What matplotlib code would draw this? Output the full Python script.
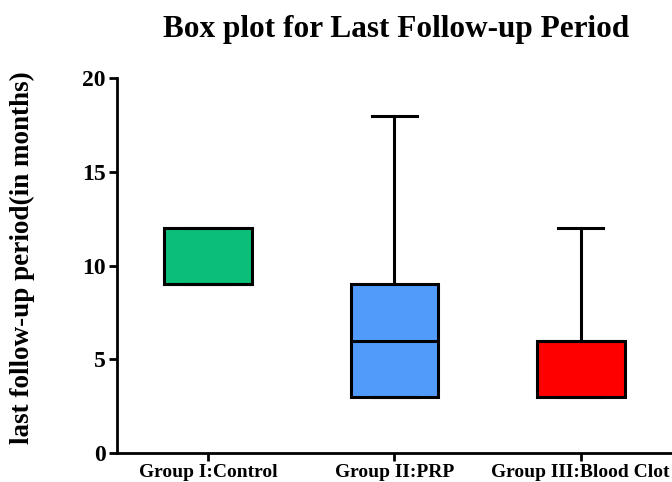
import matplotlib.pyplot as plt

groups = ["Group I:Control", "Group II:PRP", "Group III:Blood Clot"]
whislo = [9, 3, 3]
q1 = [9, 3, 3]
med = [9, 6, 6]
q3 = [12, 9, 6]
whishi = [12, 18, 12]
colors = ["#0BBF78", "#519CFB", "#FF0000"]

plt.rcParams["font.family"] = "Liberation Serif"
plt.rcParams["font.weight"] = "bold"

stats = [
    {"label": g, "whislo": lo, "q1": a, "med": m, "q3": b, "whishi": hi, "fliers": []}
    for g, lo, a, m, b, hi in zip(groups, whislo, q1, med, q3, whishi)
]

fig = plt.figure(figsize=(6.72, 4.82), dpi=100)
ax = fig.add_axes([0.174, 0.06, 0.826, 0.778])

lw = 2.2
bp = ax.bxp(stats, positions=range(3), widths=0.47, patch_artist=True,
            showfliers=False,
            boxprops=dict(linewidth=lw, edgecolor="black"),
            medianprops=dict(linewidth=lw, color="black"),
            whiskerprops=dict(linewidth=lw, color="black"),
            capprops=dict(linewidth=lw, color="black"),
            capwidths=0.24)
for patch, c in zip(bp["boxes"], colors):
    patch.set_facecolor(c)

ax.set_xlim(-0.49, 2.49)
ax.set_ylim(0, 20)
ax.set_yticks([0, 5, 10, 15, 20])
ax.set_xticks(range(3))
ax.set_xticklabels(groups, fontsize=14, fontweight="bold")
for lab in ax.get_yticklabels():
    lab.set_fontsize(17)
    lab.set_fontweight("bold")

ax.spines["top"].set_visible(False)
ax.spines["right"].set_visible(False)
ax.spines["left"].set_linewidth(2)
ax.spines["bottom"].set_linewidth(2)
ax.tick_params(width=2, length=6, pad=2)

fig.text(22 / 672, 0.466, "last follow-up period(in months)", rotation=90,
         ha="center", va="center", fontsize=19.5, fontweight="bold")
fig.text(0.589, 0.938, "Box plot for Last Follow-up Period", ha="center", va="center",
         fontsize=22.5, fontweight="bold")

fig.savefig("out.png", dpi=100)
